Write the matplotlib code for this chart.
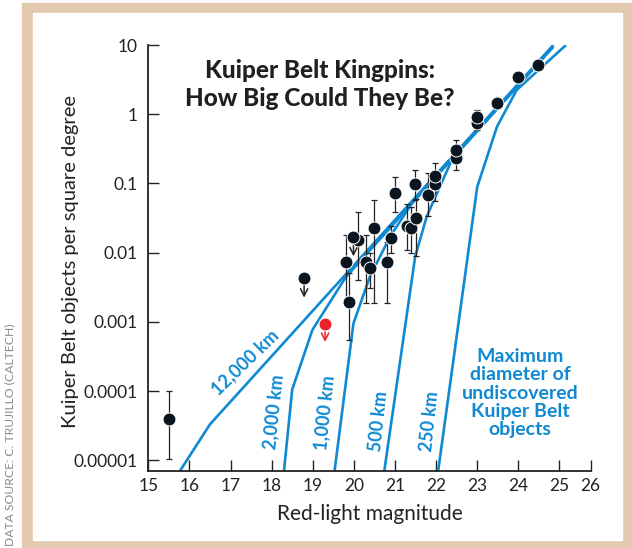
import numpy as np
import matplotlib
matplotlib.use("Agg")
import matplotlib.pyplot as plt
from matplotlib.patches import Rectangle

plt.rcParams['font.family'] = ['Lato', 'DejaVu Sans']

# survey points: magnitude, density, lower and upper ends of the error bar
mag = [15.51, 19.80, 19.89, 20.09, 20.30, 20.39, 20.49, 20.80, 20.90, 20.99,
       21.29, 21.39, 21.50, 21.49, 21.80, 21.98, 21.98, 22.49, 22.49,
       22.99, 22.99, 23.48, 23.98, 24.49]
density = [3.9e-5, 0.0072, 0.00195, 0.015, 0.0074, 0.006, 0.023, 0.0072, 0.016, 0.072,
           0.024, 0.023, 0.032, 0.098, 0.069, 0.098, 0.13, 0.235, 0.30,
           0.74, 0.92, 1.47, 3.4, 5.2]
err_lo = [1.05e-5, 0.0021, 0.00054, 0.004, 0.0019, 0.0031, 0.0019, 0.0019, 0.010, 0.038,
          0.011, 0.010, 0.0088, 0.057, 0.034, 0.055, 0.09, 0.155, 0.235,
          0.60, 0.74, 1.47, 3.4, 5.2]
err_hi = [1.0e-4, 0.018, 0.005, 0.038, 0.018, 0.010, 0.058, 0.014, 0.024, 0.123,
          0.051, 0.045, 0.06, 0.155, 0.14, 0.15, 0.195, 0.30, 0.42,
          0.92, 1.15, 1.47, 3.4, 5.2]

# upper limits (drawn with arrows)
limit_mag = [18.79, 19.99]
limit_density = [0.0043, 0.017]
red_mag = 19.30
red_density = 0.00093

# model curves for the maximum diameter of undiscovered objects
line_12000_x = [15.77, 16.50, 24.85]
line_12000_y = [7e-6, 3.3e-5, 10]
line_2000_x = [18.30, 18.50, 18.99, 19.80, 24.85]
line_2000_y = [7e-6, 1.05e-4, 7.6e-4, 4.4e-3, 9.5]
line_1000_x = [19.53, 19.99, 20.39, 20.88, 21.50, 24.85]
line_1000_y = [7e-6, 9.5e-4, 4.5e-3, 0.017, 0.062, 9.5]
line_500_x = [20.74, 21.49, 21.77, 22.02, 22.40, 24.85]
line_500_y = [7e-6, 8.7e-3, 0.033, 0.072, 0.23, 9.5]
line_250_x = [22.05, 23.00, 23.48, 23.96, 25.16]
line_250_y = [7e-6, 0.089, 0.66, 2.24, 10]

xticks = [15, 16, 17, 18, 19, 20, 21, 22, 23, 24, 25, 25.76]
xtick_labels = ['15', '16', '17', '18', '19', '20', '21', '22', '23', '24', '25', '26']
yticks = [1e-5, 1e-4, 1e-3, 1e-2, 1e-1, 1, 10]
ytick_labels = ['0.00001', '0.0001', '0.001', '0.01', '0.1', '1', '10']

BLUE = '#0f8ad2'
DARK = '#0b1520'
BEIGE = '#e3c9ad'


def main():
    fig = plt.figure(figsize=(6.32, 5.48), dpi=100)
    W, H = 632, 548

    # frame
    fig.add_artist(Rectangle((22 / W, 0), (W - 22) / W, (H - 3) / H,
                             transform=fig.transFigure, color=BEIGE, zorder=-3))
    fig.add_artist(Rectangle((33 / W, 8 / H), (622 - 33) / W, (540 - 13) / H,
                             transform=fig.transFigure, color='white', zorder=-2))
    fig.text(10 / W, (H - 435) / H, 'DATA SOURCE: C. TRUJILLO (CALTECH)', rotation=90,
             ha='center', va='center', fontsize=8.7, color='#8a8a8a')

    ax = fig.add_axes([148.3 / W, 77 / H, 442.4 / W, 426 / H])
    ax.set_facecolor('none')
    ax.set_zorder(1)

    for xs, ys in [(line_12000_x, line_12000_y), (line_2000_x, line_2000_y),
                   (line_1000_x, line_1000_y), (line_500_x, line_500_y),
                   (line_250_x, line_250_y)]:
        ax.plot(xs, ys, color=BLUE, lw=1.9, solid_capstyle='butt', zorder=2)

    d = np.array(density)
    yerr = [d - np.array(err_lo), np.array(err_hi) - d]
    ax.errorbar(mag, density, yerr=yerr, fmt='none', ecolor='#222222',
                elinewidth=0.9, capsize=2.2, capthick=0.9, zorder=3)
    ax.plot(mag, density, 'o', color=DARK, ms=9.3, mec='white', mew=0.7, zorder=4)
    ax.plot(limit_mag, limit_density, 'o', color=DARK, ms=9.3, mec='white', mew=0.7, zorder=4)
    ax.plot([red_mag], [red_density], 'o', color='#ee2028', ms=9.3, mec='white', mew=0.7, zorder=4)

    for x, y in zip(limit_mag, limit_density):
        ax.annotate('', xy=(x, y * 0.52), xytext=(x, y * 0.8),
                    arrowprops=dict(arrowstyle='->', color='#222222', lw=1.1,
                                    shrinkA=0, shrinkB=0, mutation_scale=13), zorder=3)
    ax.annotate('', xy=(red_mag, red_density * 0.55), xytext=(red_mag, red_density * 0.8),
                arrowprops=dict(arrowstyle='->', color='#ee2028', lw=1.1,
                                shrinkA=0, shrinkB=0, mutation_scale=13), zorder=3)

    ax.set_yscale('log')
    ax.set_xlim(15, 25.76)
    ax.set_ylim(10 ** -5.156, 10)
    ax.set_xticks(xticks)
    ax.set_xticklabels(xtick_labels)
    ax.set_yticks(yticks)
    ax.set_yticklabels(ytick_labels)
    ax.minorticks_off()
    ax.tick_params(direction='in', length=8, width=1, labelsize=12.5, colors='#222222')
    ax.tick_params(axis='y', pad=8)
    ax.tick_params(axis='x', pad=5)
    for s in ['top', 'right']:
        ax.spines[s].set_visible(False)
    for s in ['left', 'bottom']:
        ax.spines[s].set_linewidth(1.3)
        ax.spines[s].set_color('#222222')

    ax.set_xlabel('Red-light magnitude', fontsize=15, color='#222222')
    ax.xaxis.set_label_coords(0.5, -(514 - 471) / 426, transform=ax.transAxes)
    ax.xaxis.label.set_va('center')
    ax.set_ylabel('Kuiper Belt objects per square degree', fontsize=14.5, color='#222222')
    ax.yaxis.set_label_coords((71 - 148.3) / 442.4, (471 - 262) / 426, transform=ax.transAxes)
    ax.yaxis.label.set_va('center')

    ax.text(19.18, 2.7, 'Kuiper Belt Kingpins:\nHow Big Could They Be?', ha='center',
            va='center', fontsize=17.5, fontweight='black', color='#231f20', linespacing=1.3)

    lab = dict(color=BLUE, fontweight='bold', fontsize=13, ha='center', va='center')
    ax.text(17.35, 2.6e-4, '12,000 km', rotation=44, **lab)
    ax.text(18.04, 5.0e-5, '2,000 km', rotation=84, **lab)
    ax.text(19.30, 4.8e-5, '1,000 km', rotation=84, **lab)
    ax.text(20.60, 3.6e-5, '500 km', rotation=84, **lab)
    ax.text(21.84, 3.6e-5, '250 km', rotation=84, **lab)
    lab['fontsize'] = 14
    ax.text(24.04, 9.3e-5, 'Maximum\ndiameter of\nundiscovered\nKuiper Belt\nobjects',
            linespacing=1.1, **lab)

    fig.savefig('out.png', dpi=100)


if __name__ == "__main__":
    main()
